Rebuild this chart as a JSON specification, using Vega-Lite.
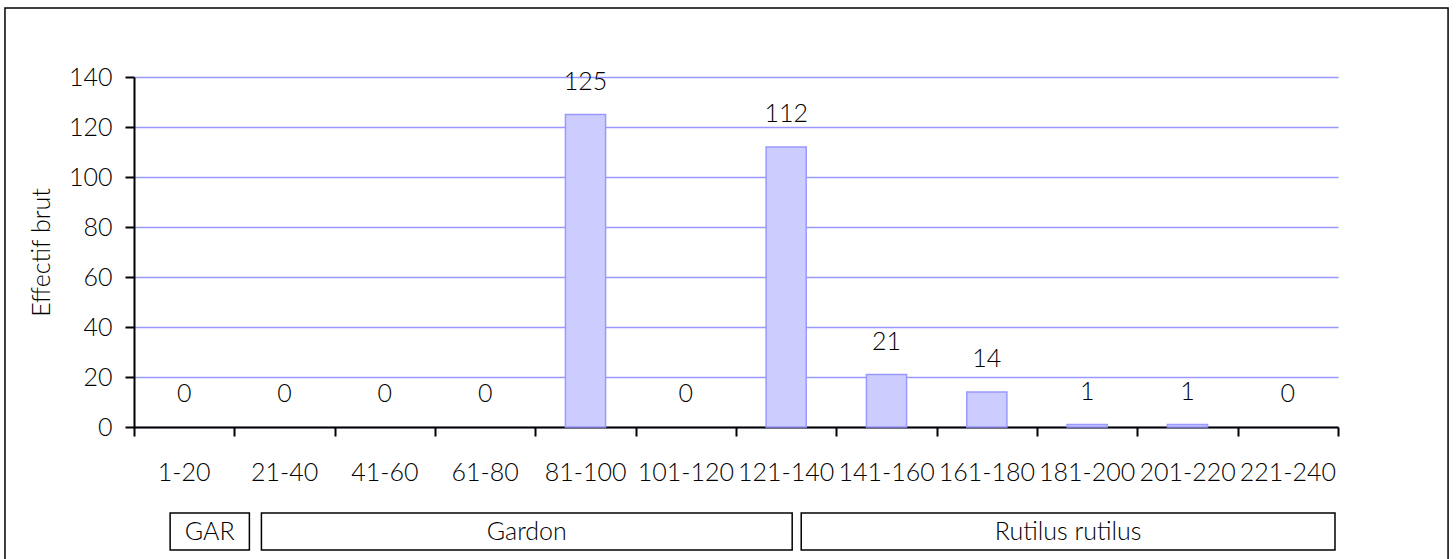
{
  "$schema": "https://vega.github.io/schema/vega-lite/v6.json",
  "autosize": {"type": "none"},
  "width": 1204,
  "height": 350,
  "padding": {"left": 134, "top": 77, "right": 118, "bottom": 132},
  "background": "white",
  "config": {
    "view": {"stroke": null},
    "font": "Lato",
    "text": {"font": "Lato"}
  },
  "datasets": {
    "bars": [
      {"classe": "1-20", "effectif": 0},
      {"classe": "21-40", "effectif": 0},
      {"classe": "41-60", "effectif": 0},
      {"classe": "61-80", "effectif": 0},
      {"classe": "81-100", "effectif": 125},
      {"classe": "101-120", "effectif": 0},
      {"classe": "121-140", "effectif": 112},
      {"classe": "141-160", "effectif": 21},
      {"classe": "161-180", "effectif": 14},
      {"classe": "181-200", "effectif": 1},
      {"classe": "201-220", "effectif": 1},
      {"classe": "221-240", "effectif": 0}
    ],
    "boxes": [
      {"label": "GAR", "start": 0.36, "end": 1.15, "top": -34.4, "bottom": -49.2, "mid": -41.8, "center": 0.755, "style": "normal"},
      {"label": "Gardon", "start": 1.27, "end": 6.56, "top": -34.4, "bottom": -49.2, "mid": -41.8, "center": 3.915, "style": "normal"},
      {"label": "Rutilus rutilus", "start": 6.65, "end": 11.97, "top": -34.4, "bottom": -49.2, "mid": -41.8, "center": 9.31, "style": "italic"}
    ],
    "frame": [
      {"x0": -1.286, "x1": 13.097, "y0": 167.6, "y1": -55}
    ]
  },
  "layer": [
    {
      "layer": [
        {
          "data": {"name": "bars"},
          "transform": [{"filter": "datum.effectif > 0"}],
          "mark": {"type": "bar", "fill": "#CCCCFF", "stroke": "#9999FF", "strokeWidth": 1.5, "width": {"band": 0.4}},
          "encoding": {
            "x": {"field": "classe", "type": "nominal", "sort": null},
            "y": {"field": "effectif", "type": "quantitative"}
          }
        },
        {
          "data": {"name": "bars"},
          "mark": {"type": "text", "baseline": "middle", "align": "center", "dy": -33, "fontSize": 25, "font": "Lato", "fontWeight": 300, "color": "#000000"},
          "encoding": {
            "x": {
              "field": "classe", "type": "nominal", "sort": null,
              "scale": {"paddingInner": 0, "paddingOuter": 0,
                "domain": ["1-20", "21-40", "41-60", "61-80", "81-100", "101-120", "121-140", "141-160", "161-180", "181-200", "201-220", "221-240"]},
              "axis": {
                "title": null, "labelAngle": 0, "labelAlign": "center", "labelFontSize": 25, "labelColor": "#000000",
                "labelFont": "Lato", "labelFontWeight": 300, "labelPadding": 33, "ticks": false, "tickSize": 0,
                "domainColor": "#000000", "domainWidth": 2,
                "grid": false, "labelBaseline": "top", "labelOverlap": false
              }
            },
            "y": {
              "field": "effectif", "type": "quantitative",
              "scale": {"domain": [0, 140], "nice": false},
              "axis": {
                "title": "Effectif brut", "titleFontSize": 25, "titleFont": "Lato", "titleFontWeight": 300,
                "titleColor": "#000000", "titlePadding": 14,
                "values": [0, 20, 40, 60, 80, 100, 120, 140],
                "labelFontSize": 25, "labelFont": "Lato", "labelFontWeight": 300, "labelColor": "#000000", "labelPadding": 13,
                "tickSize": 9, "tickColor": "#000000", "tickWidth": 2,
                "domainColor": "#000000", "domainWidth": 2,
                "grid": true, "gridColor": "#9999FF", "gridWidth": 1.5, "gridOpacity": 1
              }
            },
            "text": {"field": "effectif", "type": "quantitative"}
          }
        }
      ]
    },
    {
      "layer": [
        {
          "data": {"name": "frame"},
          "mark": {"type": "rect", "fill": null, "stroke": "#000000", "strokeWidth": 1.5},
          "encoding": {
            "x": {
              "field": "x0", "type": "quantitative",
              "scale": {"domain": [0, 12], "nice": false, "zero": false},
              "axis": {
                "orient": "bottom", "title": null, "labels": false, "domain": false, "grid": false,
                "values": [0, 1, 2, 3, 4, 5, 6, 7, 8, 9, 10, 11, 12],
                "tickSize": 9, "tickColor": "#000000", "tickWidth": 2
              }
            },
            "x2": {"field": "x1"},
            "y": {"field": "y0", "type": "quantitative"},
            "y2": {"field": "y1"}
          }
        },
        {
          "data": {"name": "boxes"},
          "mark": {"type": "rect", "fill": "white", "stroke": "#000000", "strokeWidth": 1.5},
          "encoding": {
            "x": {"field": "start", "type": "quantitative"},
            "x2": {"field": "end"},
            "y": {"field": "top", "type": "quantitative"},
            "y2": {"field": "bottom"}
          }
        },
        {
          "data": {"name": "boxes"},
          "mark": {"type": "text", "baseline": "middle", "align": "center", "fontSize": 25, "font": "Lato", "fontWeight": 300, "color": "#000000"},
          "encoding": {
            "x": {"field": "center", "type": "quantitative"},
            "y": {"field": "mid", "type": "quantitative"},
            "text": {"field": "label"},
            "fontStyle": {"field": "style", "type": "nominal", "scale": {"domain": ["normal", "italic"], "range": ["normal", "italic"]}, "legend": null}
          }
        }
      ]
    }
  ],
  "resolve": {"scale": {"x": "independent"}}
}
